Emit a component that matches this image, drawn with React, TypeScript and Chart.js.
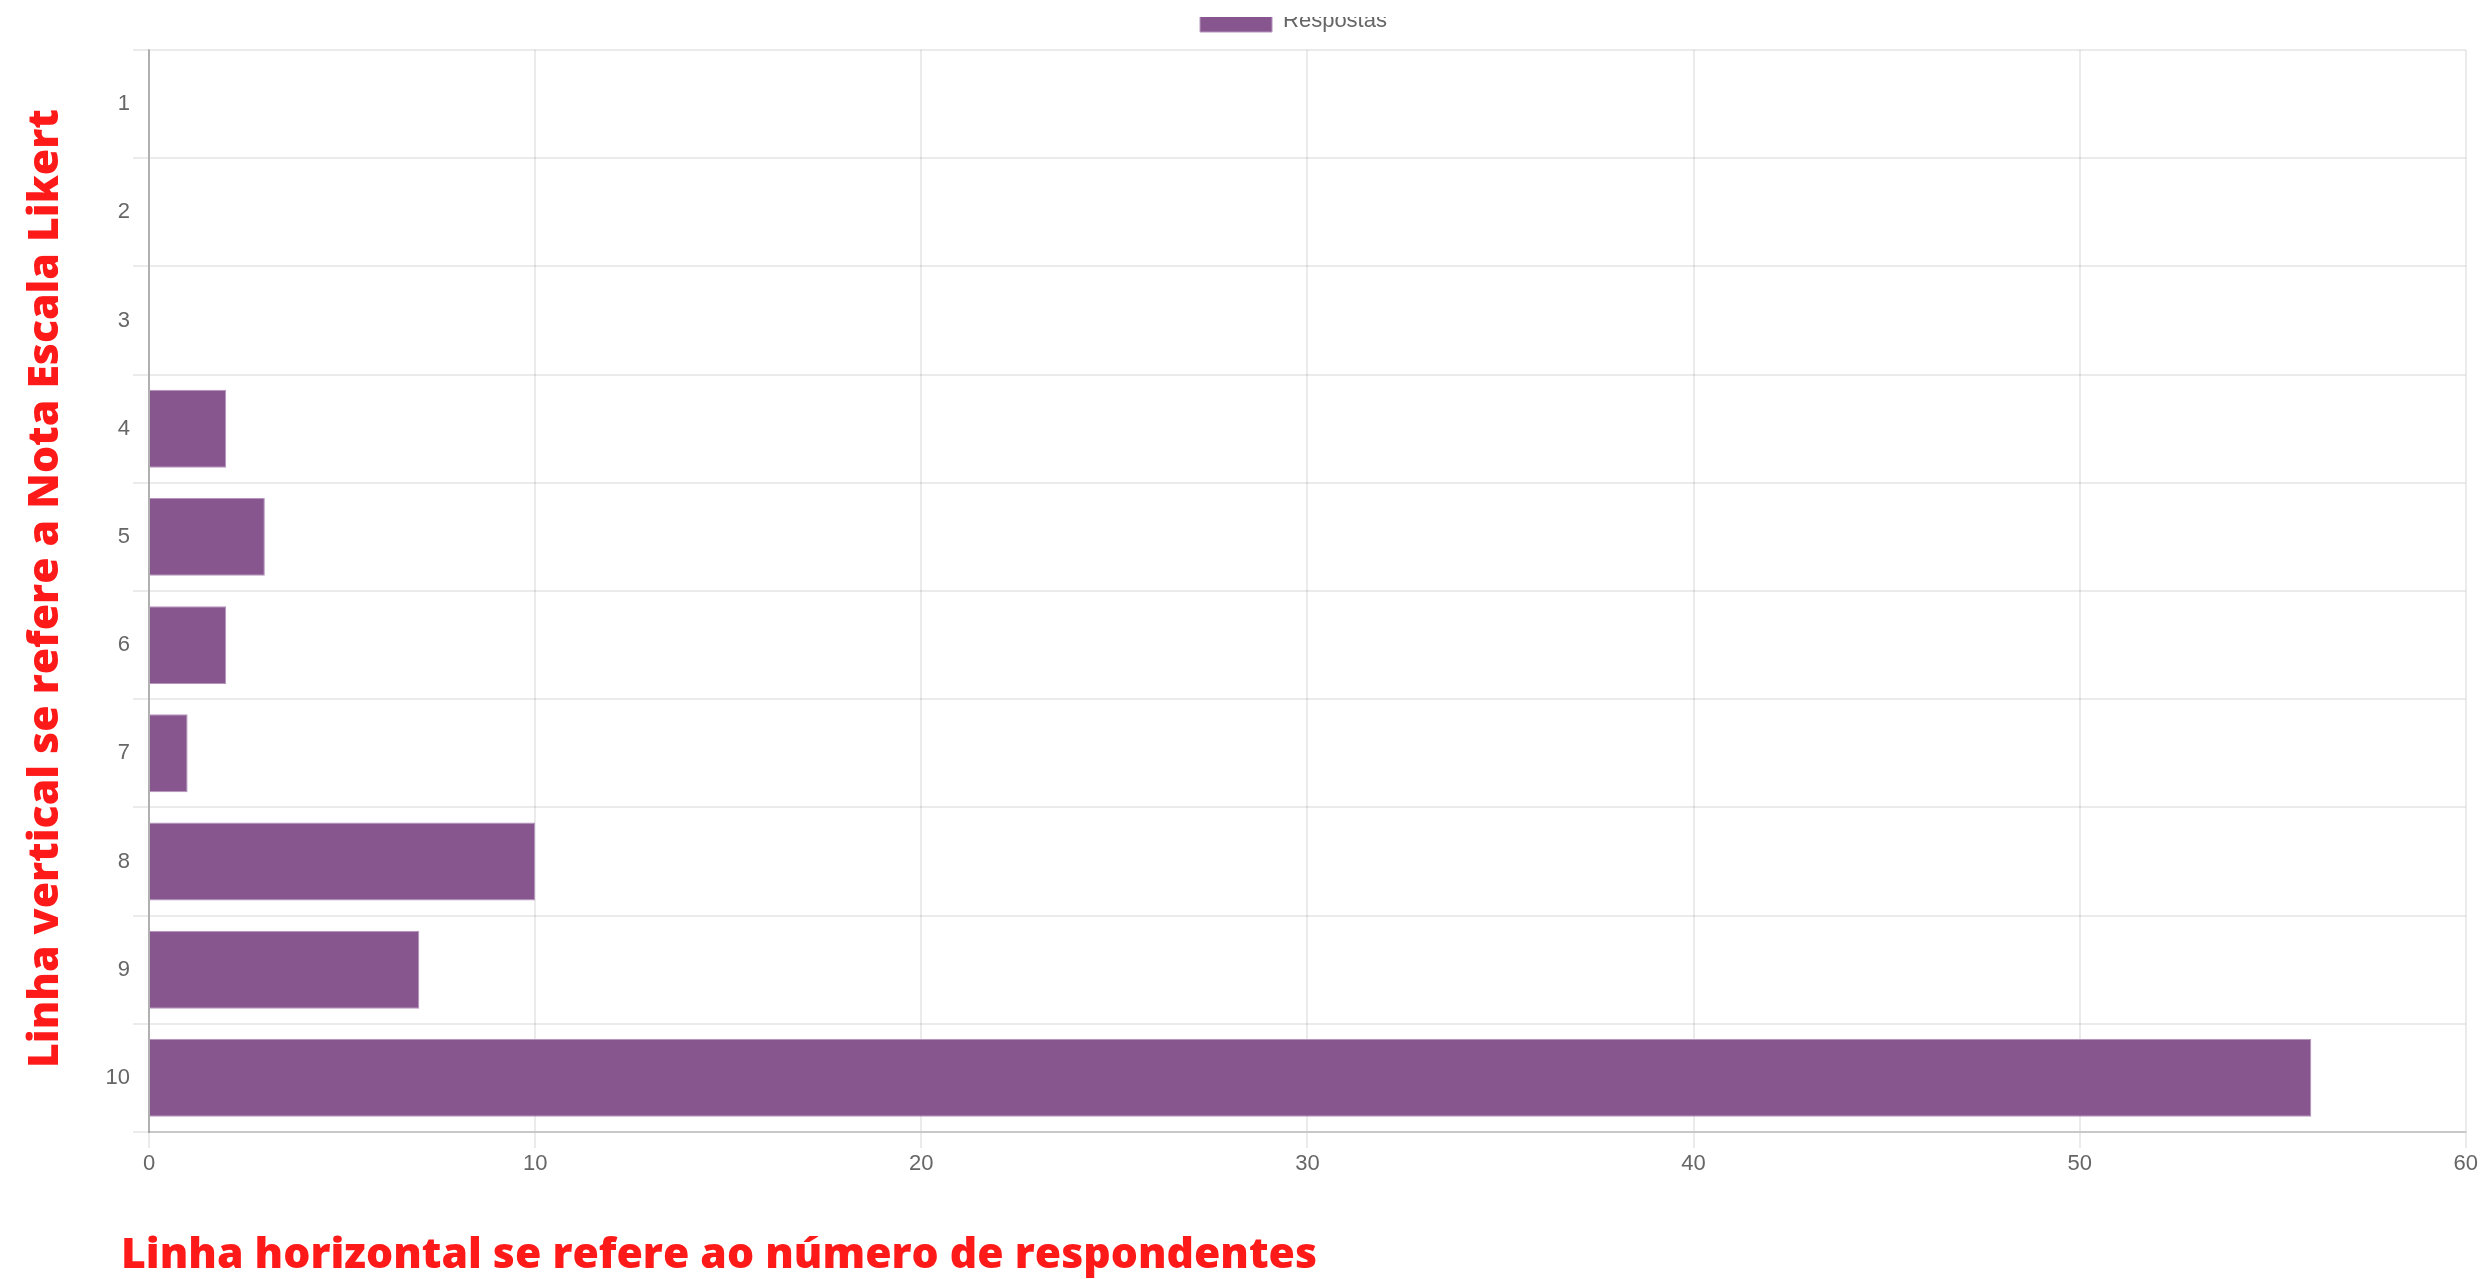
import React, { useEffect, useRef } from "react";
import { Chart, registerables } from "chart.js";

Chart.register(...registerables);

const categories = ["1", "2", "3", "4", "5", "6", "7", "8", "9", "10"];
const respostas = [0, 0, 0, 2, 3, 2, 1, 10, 7, 56];
const seriesLabel = "Respostas";
const xMin = 0;
const xMax = 60;
const xStep = 10;
const yTitle = "Linha vertical se refere a Nota Escala Likert";
const xTitle = "Linha horizontal se refere ao número de respondentes";

const W = 2481;
const H = 1279;

export default function App() {
  const ref = useRef<HTMLCanvasElement | null>(null);

  useEffect(() => {
    const canvas = ref.current;
    if (!canvas) return;
    const legendTweak = {
      id: "legendTweak",
      beforeInit(chart: any) {
        const origFit = chart.legend.fit;
        chart.legend.fit = function () {
          origFit.call(this);
          this.height += 8;
        };
      },
      afterLayout(chart: any) {
        chart.legend.left += 7;
        chart.legend.right += 7;
      },
    };
    const tickFont = { size: 22, family: "Arial, 'Liberation Sans', sans-serif" };
    const chart = new Chart(canvas, {
      type: "bar",
      data: {
        labels: categories,
        datasets: [
          {
            label: seriesLabel,
            data: respostas,
            backgroundColor: "#87568f",
            borderColor: "#b595bc",
            borderWidth: 1,
          },
        ],
      },
      plugins: [legendTweak],
      options: {
        indexAxis: "y",
        responsive: false,
        animation: false,
        devicePixelRatio: 1,
        layout: { padding: { left: 100, right: 8, top: 0, bottom: 87 } },
        plugins: {
          legend: {
            position: "top",
            labels: {
              boxWidth: 72,
              boxHeight: 22,
              padding: 10,
              color: "#666",
              font: tickFont,
            },
          },
          tooltip: { enabled: false },
        },
        scales: {
          x: {
            min: xMin,
            max: xMax,
            ticks: { stepSize: xStep, color: "#666", padding: 3, font: tickFont },
            grid: { color: "rgba(0,0,0,0.08)", tickLength: 16, lineWidth: 2 },
            border: { color: "rgba(0,0,0,0.15)", width: 2 },
            afterFit(scale: any) {
              scale.height = 60;
            },
          },
          y: {
            ticks: { color: "#666", padding: 3, font: tickFont },
            grid: { color: "rgba(0,0,0,0.08)", tickLength: 16, lineWidth: 2, offset: true },
            border: { color: "rgba(0,0,0,0.25)", width: 2 },
            afterFit(scale: any) {
              scale.width = 49;
            },
          },
        },
      },
    } as any);
    return () => chart.destroy();
  }, []);

  const titleStyle: React.CSSProperties = {
    position: "absolute",
    color: "#ff1a1a",
    fontFamily: "'Open Sans', sans-serif",
    fontWeight: 800,
    fontSize: 42.7,
    lineHeight: 1,
    whiteSpace: "nowrap",
  };

  return (
    <div style={{ position: "absolute", left: 0, top: 0, width: W, height: H, background: "#fff", overflow: "hidden" }}>
      <div style={{ position: "absolute", left: 0, top: 17, width: W, height: H - 17, overflow: "hidden" }}>
        <canvas ref={ref} width={W} height={H} style={{ position: "absolute", left: 0, top: -17, width: W, height: H }} />
      </div>
      <div
        style={{
          ...titleStyle,
          left: 21,
          top: 1068,
          transformOrigin: "left top",
          transform: "rotate(-90deg)",
        }}
      >
        {yTitle}
      </div>
      <div style={{ ...titleStyle, left: 121, top: 1231 }}>{xTitle}</div>
    </div>
  );
}
